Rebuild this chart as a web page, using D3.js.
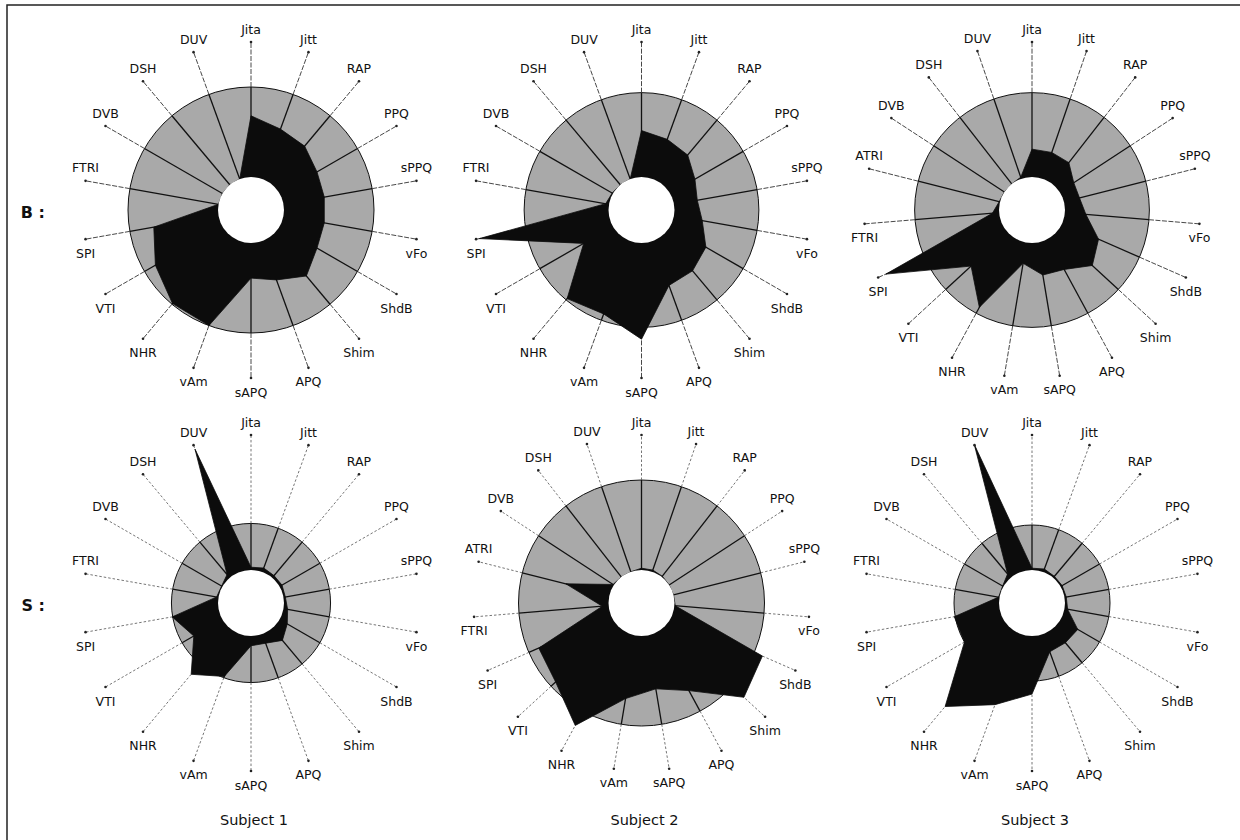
<!DOCTYPE html>
<html>
<head>
<meta charset="utf-8">
<script src="https://cdn.jsdelivr.net/npm/d3@7"></script>
<style>
  html, body { margin: 0; padding: 0; background: #fff; }
  svg { display: block; }
  text { font-family: 'DejaVu Sans', sans-serif; fill: #111; }
</style>
</head>
<body>
<div id="chart"></div>
<script>
// axis sets: 18 parameters, or 19 when ATRI is measured
const axes18 = ['Jita', 'Jitt', 'RAP', 'PPQ', 'sPPQ', 'vFo', 'ShdB', 'Shim', 'APQ', 'sAPQ',
  'vAm', 'NHR', 'VTI', 'SPI', 'FTRI', 'DVB', 'DSH', 'DUV']
const axes19 = ['Jita', 'Jitt', 'RAP', 'PPQ', 'sPPQ', 'vFo', 'ShdB', 'Shim', 'APQ', 'sAPQ',
  'vAm', 'NHR', 'VTI', 'SPI', 'FTRI', 'ATRI', 'DVB', 'DSH', 'DUV']

const subjects = ['Subject 1', 'Subject 2', 'Subject 3']
const rows = ['B', 'S']

// values relative to the normative threshold (1 = edge of the grey disc)
const valuesB1 = [0.68, 0.59, 0.56, 0.48, 0.46, 0.46, 0.48, 0.59, 0.46, 0.39,
  1.0, 0.99, 0.86, 0.73, 0, 0, 0, 0]
const valuesB2 = [0.55, 0.50, 0.46, 0.34, 0.28, 0.34, 0.49, 0.55, 0.56, 1.14,
  0.92, 0.98, 0.40, 1.56, 0.04, 0.01, 0, 0]
const valuesB3 = [0.33, 0.33, 0.32, 0.20, 0.19, 0.25, 0.47, 0.58, 0.41, 0.39,
  0.25, 0.92, 0.59, 1.50, 0.08, 0.01, 0, 0, 0.02]
const valuesS1 = [0.06, 0.09, 0.06, 0.06, 0.04, 0.09, 0.19, 0.34, 0.21, 0.21,
  0.97, 1.29, 0.71, 1.01, 0.04, 0.02, 0.09, 2.81]
const valuesS2 = [0.02, 0.02, 0.01, 0, 0, 0.01, 1.10, 1.18, 0.74, 0.60,
  0.71, 1.18, 0.93, 0.88, 0.07, 0.50, 0.01, 0, 0]
const valuesS3 = [0.04, 0.07, 0.04, 0.04, 0.04, 0.07, 0.44, 0.42, 0.42, 1.29,
  1.67, 2.27, 1.00, 1.02, 0.02, 0.02, 0.11, 3.02]

// value reached at the tip of each axis (per panel, auto-scaled)
const scaleMaxB = [1.5, 1.6, 1.6]
const scaleMaxS = [2.9, 1.5, 3.0]

const width = 1240
const height = 840
const r0 = 33        // white hole
const rTip = 168     // end of spokes
const grey = '#a9a9a9'

const panels = [
  { row: 'B', subject: subjects[0], axes: axes18, values: valuesB1, max: scaleMaxB[0] },
  { row: 'B', subject: subjects[1], axes: axes18, values: valuesB2, max: scaleMaxB[1] },
  { row: 'B', subject: subjects[2], axes: axes19, values: valuesB3, max: scaleMaxB[2] },
  { row: 'S', subject: subjects[0], axes: axes18, values: valuesS1, max: scaleMaxS[0] },
  { row: 'S', subject: subjects[1], axes: axes19, values: valuesS2, max: scaleMaxS[1] },
  { row: 'S', subject: subjects[2], axes: axes18, values: valuesS3, max: scaleMaxS[2] },
]

const svg = d3.select('#chart')
  .append('svg')
  .attr('width', width)
  .attr('height', height)

// scan frame, top and left edges only
svg.append('path')
  .attr('d', 'M7,840 V5 H1240')
  .attr('fill', 'none')
  .attr('stroke', '#222')
  .attr('stroke-width', 1.5)

const colX = d3.scalePoint().domain(subjects).range([251, 1032])
const rowY = d3.scalePoint().domain(rows).range([210, 603])

const pt = (a, r) => [Math.sin(a) * r, -Math.cos(a) * r]

panels.forEach((p) => {
  const g = svg.append('g')
    .attr('transform', `translate(${colX(p.subject)},${rowY(p.row)})`)

  const n = p.axes.length
  const angle = d3.scaleLinear().domain([0, n]).range([0, 2 * Math.PI])
  const radius = d3.scaleLinear().domain([0, p.max]).range([r0, rTip])
  const discR = radius(1)

  g.append('circle')
    .attr('r', discR)
    .attr('fill', grey)
    .attr('stroke', '#111')
    .attr('stroke-width', 1)

  // spokes inside the disc
  g.selectAll('line.inner')
    .data(p.axes)
    .join('line')
    .attr('class', 'inner')
    .attr('x1', (d, i) => pt(angle(i), r0)[0])
    .attr('y1', (d, i) => pt(angle(i), r0)[1])
    .attr('x2', (d, i) => pt(angle(i), discR)[0])
    .attr('y2', (d, i) => pt(angle(i), discR)[1])
    .attr('stroke', '#111')
    .attr('stroke-width', 1.3)

  // thin dotted spokes outside the disc
  g.selectAll('line.outer')
    .data(p.axes)
    .join('line')
    .attr('class', 'outer')
    .attr('x1', (d, i) => pt(angle(i), discR)[0])
    .attr('y1', (d, i) => pt(angle(i), discR)[1])
    .attr('x2', (d, i) => pt(angle(i), rTip)[0])
    .attr('y2', (d, i) => pt(angle(i), rTip)[1])
    .attr('stroke', p.row === 'B' ? '#333' : '#666')
    .attr('stroke-width', 0.9)
    .attr('stroke-dasharray', p.row === 'B' ? '5,1.5' : '2.5,2')

  const shape = d3.lineRadial()
    .angle((d, i) => angle(i))
    .radius((d) => radius(d))
    .curve(d3.curveLinearClosed)

  g.append('path')
    .datum(p.values)
    .attr('fill', '#0c0c0c')
    .attr('stroke', '#0c0c0c')
    .attr('stroke-width', 0.8)
    .attr('stroke-linejoin', 'miter')
    .attr('d', shape)

  g.append('circle')
    .attr('r', r0)
    .attr('fill', '#fff')

  g.selectAll('circle.tip')
    .data(p.axes)
    .join('circle')
    .attr('class', 'tip')
    .attr('cx', (d, i) => pt(angle(i), rTip)[0])
    .attr('cy', (d, i) => pt(angle(i), rTip)[1])
    .attr('r', 1.3)
    .attr('fill', '#222')

  g.selectAll('text.axis')
    .data(p.axes)
    .join('text')
    .attr('class', 'axis')
    .attr('x', (d, i) => pt(angle(i), rTip)[0])
    .attr('y', (d, i) => pt(angle(i), rTip)[1] + (Math.cos(angle(i)) > 0 ? -13 : 14))
    .attr('text-anchor', 'middle')
    .attr('dominant-baseline', 'central')
    .attr('font-size', 12.5)
    .text((d) => d)
})

// row labels
svg.selectAll('text.row')
  .data(rows)
  .join('text')
  .attr('class', 'row')
  .attr('x', 45)
  .attr('y', (d) => rowY(d) + 2)
  .attr('text-anchor', 'end')
  .attr('dominant-baseline', 'central')
  .attr('font-size', 16)
  .attr('font-weight', 'bold')
  .text((d) => d + ' :')

// column labels
svg.selectAll('text.subject')
  .data(subjects)
  .join('text')
  .attr('class', 'subject')
  .attr('x', (d) => colX(d) + 3)
  .attr('y', 820)
  .attr('text-anchor', 'middle')
  .attr('dominant-baseline', 'central')
  .attr('font-size', 14.5)
  .text((d) => d)
</script>
</body>
</html>
